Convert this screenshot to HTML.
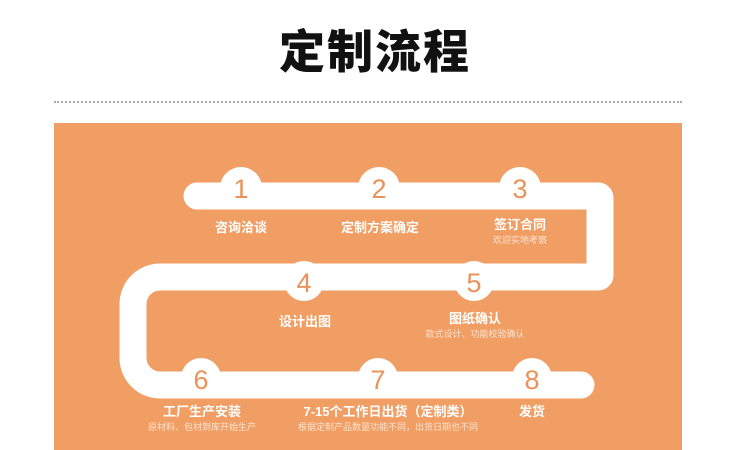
<!DOCTYPE html>
<html><head><meta charset="utf-8"><style>
body{margin:0;width:750px;height:450px;background:#fff;overflow:hidden;position:relative;font-family:"Liberation Sans","Noto Sans CJK SC",sans-serif}
.t{position:absolute;left:0;width:750px;top:22px;text-align:center;font-size:46px;font-weight:900;color:#111;letter-spacing:2px;line-height:60px}
.dot{position:absolute;left:54px;width:628px;top:101px;border-top:2px dotted #aaa}
.box{position:absolute;left:54px;top:123px;width:628px;height:327px;background:#F09E64}
svg{position:absolute;left:0;top:0}
.l{position:absolute;transform:translateX(-50%);white-space:nowrap;color:#fff;font-weight:bold;font-size:13px;text-align:center;line-height:16px}
.s{display:block;font-size:9px;font-weight:normal;color:#fde3d0;line-height:14px}
</style></head><body>
<div class="t">定制流程</div>
<div class="dot"></div>
<div class="box"></div>
<svg width="750" height="450">
<path d="M197 196 H598 Q600 196 600 198 V275 Q600 277 598 277 H160 A27 27 0 0 0 133 304 V358 A27 27 0 0 0 160 385 H581" fill="none" stroke="#fff" stroke-width="27" stroke-linecap="round" stroke-linejoin="round"/>
<g fill="#fff">
<circle cx="241" cy="188" r="21"/><circle cx="379" cy="188" r="21"/><circle cx="520" cy="188" r="21"/>
<circle cx="304" cy="281" r="20"/><circle cx="474" cy="281" r="20"/>
<circle cx="201" cy="378" r="20"/><circle cx="378" cy="378" r="20"/><circle cx="532" cy="378" r="20"/>
</g>
<g fill="#E9925A" font-family="Liberation Sans" font-size="27" text-anchor="middle">
<text x="241" y="198">1</text><text x="379" y="198">2</text><text x="520" y="198">3</text>
<text x="304" y="292">4</text><text x="474" y="292">5</text>
<text x="201" y="389">6</text><text x="378" y="389">7</text><text x="532" y="389">8</text>
</g>
</svg>
<div class="l" style="left:241px;top:220px">咨询洽谈</div>
<div class="l" style="left:380px;top:220px">定制方案确定</div>
<div class="l" style="left:520px;top:217px">签订合同<span class="s">欢迎实地考察</span></div>
<div class="l" style="left:305px;top:314px">设计出图</div>
<div class="l" style="left:475px;top:311px">图纸确认<span class="s">款式设计、功能校验确认</span></div>
<div class="l" style="left:202px;top:404px">工厂生产安装<span class="s">原材料、包材到库开始生产</span></div>
<div class="l" style="left:388px;top:404px">7-15个工作日出货（定制类）<span class="s">根据定制产品数量功能不同，出货日期也不同</span></div>
<div class="l" style="left:532px;top:404px">发货</div>
</body></html>
